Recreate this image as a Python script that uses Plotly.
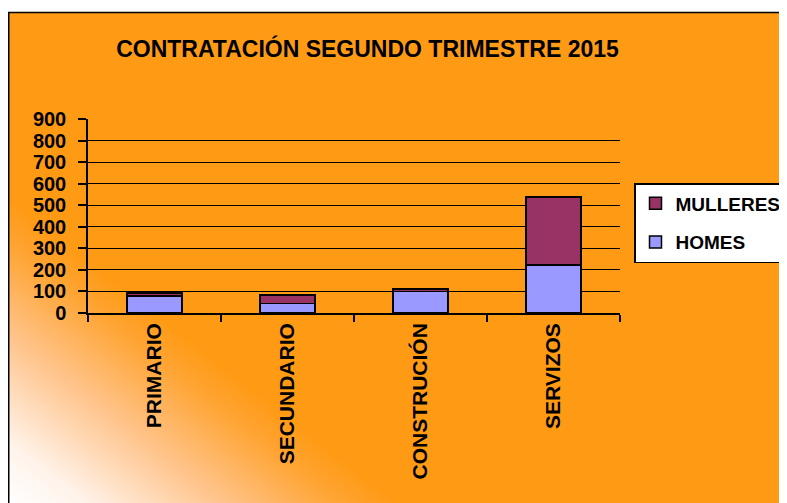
import base64
import plotly.graph_objects as go

categories = ["PRIMARIO", "SECUNDARIO", "CONSTRUCIÓN", "SERVIZOS"]
homes = [80, 45, 99, 222]
mulleres = [13, 39, 13, 316]
y_ticks = [0, 100, 200, 300, 400, 500, 600, 700, 800, 900]

# page body has an 8px margin, so figure coords = screen coords - 8
OFF = 8
W, H = 787 - OFF, 503 - OFF
L, R, T, B = 88 - OFF, 620 - OFF, 119 - OFF, 313 - OFF
pw, ph = R - L, B - T

ORANGE = "#FF9A14"
FONT = "Liberation Sans, Arial, sans-serif"

svg = f'''<svg xmlns="http://www.w3.org/2000/svg" width="{W}" height="{H}" viewBox="0 0 {W} {H}" preserveAspectRatio="none">
<defs><linearGradient id="g" gradientUnits="userSpaceOnUse" x1="0" y1="{H}" x2="148" y2="{H - 189}">
<stop offset="0" stop-color="#FFFFFF"/>
<stop offset="0.2" stop-color="#FFF3EA"/>
<stop offset="0.55" stop-color="#FFC48C"/>
<stop offset="0.85" stop-color="#FFA535"/>
<stop offset="1" stop-color="{ORANGE}"/>
</linearGradient></defs>
<rect x="0" y="0" width="{W}" height="{H}" fill="#FFFFFF"/>
<rect x="0.75" y="4.5" width="800" height="500" fill="url(#g)" stroke="#000000" stroke-width="1.5"/>
</svg>'''
src = "data:image/svg+xml;base64," + base64.b64encode(svg.encode()).decode()

fig = go.Figure()
fig.add_trace(go.Bar(
    x=categories, y=homes, name="<b>HOMES</b>", legendgroup="h", legendrank=2,
    marker=dict(color="#9999FF", line=dict(color="#000000", width=1.5)),
))
fig.add_trace(go.Bar(
    x=categories, y=mulleres, name="<b>MULLERES</b>", legendgroup="m", legendrank=1,
    marker=dict(color="#993366", line=dict(color="#000000", width=1.5)),
))

fig.update_layout(
    width=W, height=H,
    margin=dict(l=L, r=W - R, t=T, b=H - B, pad=0, autoexpand=False),
    paper_bgcolor="#FFFFFF",
    plot_bgcolor="rgba(0,0,0,0)",
    barmode="stack",
    bargap=0.59,
    showlegend=True,
    font=dict(family=FONT, color="#000000"),
    title=dict(
        text="<b>CONTRATACIÓN SEGUNDO TRIMESTRE 2015</b>",
        font=dict(size=23, family=FONT, color="#000000"),
        x=(367.5 - OFF) / W, xref="container", xanchor="center",
        y=1 - (49 - OFF) / H, yref="container", yanchor="middle",
    ),
    legend=dict(
        x=(634 - OFF - L) / pw, y=(B - (183 - OFF)) / ph, xanchor="left", yanchor="top",
        xref="paper", yref="paper",
        bgcolor="#FFFFFF", bordercolor="#000000", borderwidth=1.5,
        font=dict(size=19, family=FONT, color="#000000"),
        traceorder="grouped", tracegroupgap=11, itemwidth=30,
    ),
    images=[dict(
        source=src, xref="paper", yref="paper",
        x=-L / pw, y=B / ph, sizex=W / pw, sizey=H / ph,
        xanchor="left", yanchor="top", sizing="stretch", layer="below",
    )],
)

fig.update_xaxes(
    tickvals=categories, ticktext=[f"<b>{c}</b>" for c in categories],
    showline=True, linecolor="#000000", linewidth=1.5,
    ticks="outside", tickson="boundaries", ticklen=7, tickwidth=1.5, tickcolor="#000000",
    tickangle=-90, tickfont=dict(size=21, family=FONT, color="#000000"),
    ticklabelstandoff=0,
    showgrid=False,
)
fig.update_yaxes(
    range=[0, 900], tickvals=y_ticks, ticktext=[f"<b>{v}</b>" for v in y_ticks],
    showline=True, linecolor="#000000", linewidth=1.5,
    ticks="outside", ticklen=8, tickwidth=1.5, tickcolor="#000000",
    showgrid=True, gridcolor="#000000", gridwidth=1.3,
    zeroline=False, ticklabelstandoff=8,
    tickfont=dict(size=20, family=FONT, color="#000000"),
)

fig.write_html("out.html")
